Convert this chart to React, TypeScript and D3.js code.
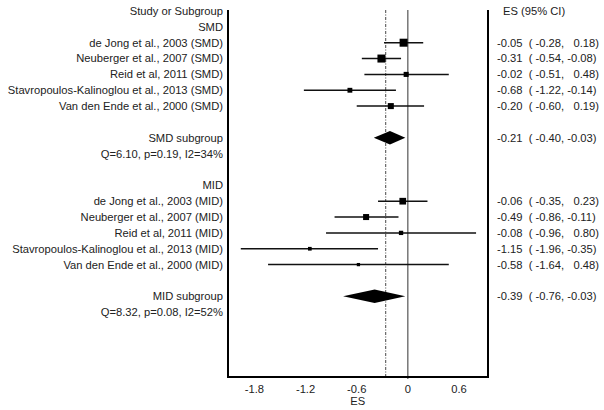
import React from "react";
import * as d3 from "d3";

const smdStudies = [
  "de Jong et al., 2003 (SMD)",
  "Neuberger et al., 2007 (SMD)",
  "Reid et al, 2011 (SMD)",
  "Stavropoulos-Kalinoglou et al., 2013 (SMD)",
  "Van den Ende et al., 2000 (SMD)",
];
const smdEs = [-0.05, -0.31, -0.02, -0.68, -0.2];
const smdLo = [-0.28, -0.54, -0.51, -1.22, -0.6];
const smdHi = [0.18, -0.08, 0.48, -0.14, 0.19];
const smdWeight = [30, 30, 12, 11, 17];
const smdSub = { es: -0.21, lo: -0.4, hi: -0.03, het: "Q=6.10, p=0.19, I2=34%" };

const midStudies = [
  "de Jong et al., 2003 (MID)",
  "Neuberger et al., 2007 (MID)",
  "Reid et al, 2011 (MID)",
  "Stavropoulos-Kalinoglou et al., 2013 (MID)",
  "Van den Ende et al., 2000 (MID)",
];
const midEs = [-0.06, -0.49, -0.08, -1.15, -0.58];
const midLo = [-0.35, -0.86, -0.96, -1.96, -1.64];
const midHi = [0.23, -0.11, 0.8, -0.35, 0.48];
const midWeight = [21, 17, 8.7, 6.4, 5];
const midSub = { es: -0.39, lo: -0.76, hi: -0.03, het: "Q=8.32, p=0.08, I2=52%" };

const overallEs = -0.26;
const tickValues = [-1.8, -1.2, -0.6, 0, 0.6];
const xDomain = [-2.11, 0.94];

const fmt = (v: number) => {
  const s = v.toFixed(2);
  return v >= 0 ? "\u00a0\u00a0" + s : s;
};
const ciText = (e: number, l: number, h: number) =>
  `${e.toFixed(2)}\u00a0\u00a0(\u00a0${fmt(l)},\u00a0${fmt(h)})`;

export default function App() {
  const W = 604, H = 410;
  const left = 228, right = 488, top = 10, axisY = 377;
  const x = d3.scaleLinear().domain(xDomain).range([left, right]);
  const rowY = (i: number) => 11 + i * 15.85;
  const font = "'Liberation Sans', Arial, sans-serif";
  const fs = 11.2;
  const tc = "#222";
  const labelX = 223;
  const ciX = 497;
  const k = 1.46;

  const groups = [
    { title: "SMD", studies: smdStudies, es: smdEs, lo: smdLo, hi: smdHi, w: smdWeight, sub: smdSub, start: 1, subName: "SMD subgroup" },
    { title: "MID", studies: midStudies, es: midEs, lo: midLo, hi: midHi, w: midWeight, sub: midSub, start: 11, subName: "MID subgroup" },
  ];

  return (
    <svg width={W} height={H} style={{ position: "absolute", left: 0, top: 0 }} fontFamily={font}>
      <rect width={W} height={H} fill="#fff" />
      <text x={labelX} y={rowY(0)} dy="0.35em" textAnchor="end" fontSize={fs} fill={tc}>Study or Subgroup</text>
      <text x={503} y={rowY(0)} dy="0.35em" fontSize={fs} fill={tc}>ES (95% CI)</text>

      {/* reference lines */}
      <line x1={x(overallEs)} x2={x(overallEs)} y1={top} y2={axisY} stroke="#333" strokeWidth={0.9} strokeDasharray="3,1.5,1,1.5" />
      <line x1={x(0)} x2={x(0)} y1={top} y2={axisY + 2} stroke="#333" strokeWidth={1} />

      {groups.map((g) => (
        <g key={g.title}>
          <text x={labelX} y={rowY(g.start)} dy="0.35em" textAnchor="end" fontSize={fs} fill={tc}>{g.title}</text>
          {g.studies.map((s, i) => {
            const y = rowY(g.start + 1 + i);
            const side = k * Math.sqrt(g.w[i]);
            return (
              <g key={s}>
                <text x={labelX} y={y} dy="0.35em" textAnchor="end" fontSize={fs} fill={tc}>{s}</text>
                <line x1={x(g.lo[i])} x2={x(g.hi[i])} y1={y} y2={y} stroke="#111" strokeWidth={1.5} />
                <rect x={x(g.es[i]) - side / 2} y={y - side / 2} width={side} height={side} fill="#000" />
                <text x={ciX} y={y} dy="0.35em" fontSize={fs} fill={tc}>{ciText(g.es[i], g.lo[i], g.hi[i])}</text>
              </g>
            );
          })}
          {(() => {
            const y = rowY(g.start + 7);
            const hh = 6.8;
            const pts = [
              [x(g.sub.lo), y],
              [x(g.sub.es), y - hh],
              [x(g.sub.hi), y],
              [x(g.sub.es), y + hh],
            ];
            return (
              <g>
                <text x={labelX} y={y} dy="0.35em" textAnchor="end" fontSize={fs} fill={tc}>{g.subName}</text>
                <path d={d3.line()(pts as [number, number][]) + "Z"} fill="#000" />
                <text x={ciX} y={y} dy="0.35em" fontSize={fs} fill={tc}>{ciText(g.sub.es, g.sub.lo, g.sub.hi)}</text>
                <text x={labelX} y={rowY(g.start + 8)} dy="0.35em" textAnchor="end" fontSize={fs} fill={tc}>{g.sub.het}</text>
              </g>
            );
          })()}
        </g>
      ))}

      {/* frame */}
      <line x1={left} x2={left} y1={top} y2={axisY + 1} stroke="#000" strokeWidth={2} />
      <line x1={right} x2={right} y1={top} y2={axisY + 1} stroke="#000" strokeWidth={2} />
      <line x1={left} x2={right} y1={axisY} y2={axisY} stroke="#000" strokeWidth={2} />

      {tickValues.map((t) => (
        <text key={t} x={x(t)} y={389} dy="0.35em" textAnchor="middle" fontSize={fs} fill={tc}>{t === 0 ? "0" : t.toFixed(1)}</text>
      ))}
      <text x={x(-0.6) + 1} y={401} dy="0.35em" textAnchor="middle" fontSize={fs} fill={tc}>ES</text>
    </svg>
  );
}
